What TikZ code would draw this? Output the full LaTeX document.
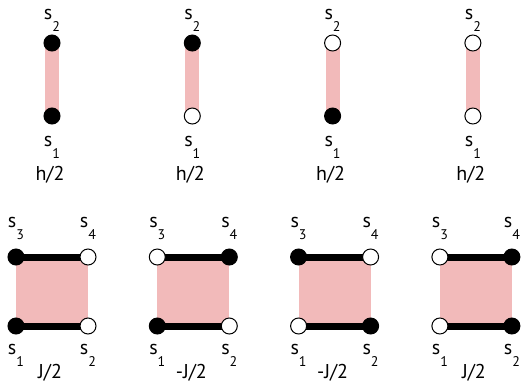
\documentclass[tikz,border=0pt]{standalone}
\usepackage{fontspec}
\setmainfont{PT Sans}
\usepackage{tikz}
\usetikzlibrary{positioning,backgrounds}
\definecolor{bondpink}{RGB}{242,186,186}
\newcommand{\spinlabel}[1]{s\raisebox{-9pt}{\fontsize{10.5pt}{12pt}\selectfont #1}}

\begin{document}
\begin{tikzpicture}[
		x=0.75pt, y=-0.75pt,
		up/.style={circle, draw, line width=0.75pt, fill=black, minimum size=12pt, inner sep=0pt},
		down/.style={up, fill=white},
		field/.style={line width=10.5pt, draw=bondpink},
		bond/.style={line width=5.25pt, draw=black},
		lbl/.style={inner sep=0pt, font=\fontsize{15pt}{18pt}\selectfont}
		]
		\useasboundingbox (0,0) rectangle (522,383);
		
		% ===== one spin: field term =====
		\foreach \a/\b [count=\i from 0] in {up/up, down/up, up/down, down/down}{
			\node[\b] (T\i b) at ({52+140.3*\i},43) {};
			\node[\a] (T\i a) at ({52+140.3*\i},116) {};
			\begin{scope}[on background layer]
				\draw[field] (T\i a.center) -- (T\i b.center);
			\end{scope}
			\node[lbl, above=2.25pt of T\i b] {\spinlabel{2}};
			\node[lbl, below=8.25pt of T\i a] {\spinlabel{1}};
			\node[lbl, anchor=base] (H\i) at ({50+140.3*\i},180) {h/2};
		}
		
		% ===== plaquette: coupling term =====
		\foreach \a/\b/\c/\d/\w [count=\i from 0] in {up/down/up/down/{J/2}, up/down/down/up/{-J/2}, down/up/up/down/{-J/2}, down/up/down/up/{J/2}}{
			\node[\a] (B\i a) at ({16+141.3*\i},326) {};
			\node[\b] (B\i b) at ({88+141.3*\i},326) {};
			\node[\c] (B\i c) at ({16+141.3*\i},257) {};
			\node[\d] (B\i d) at ({88+141.3*\i},257) {};
			\begin{scope}[on background layer]
				\fill[bondpink] (B\i a.center) rectangle (B\i d.center);
				\draw[bond] (B\i a.center) -- (B\i b.center);
				\draw[bond] (B\i c.center) -- (B\i d.center);
			\end{scope}
			\node[lbl, above=6.75pt of B\i c] {\spinlabel{3}};
			\node[lbl, above=6.75pt of B\i d] {\spinlabel{4}};
			\node[lbl, below=6.75pt of B\i a] {\spinlabel{1}};
			\node[lbl, below=6.75pt of B\i b] {\spinlabel{2}};
			\node[lbl, anchor=base] (J\i) at ({50+141.3*\i},378) {\w};
		}
		
	\end{tikzpicture}
\end{document}
